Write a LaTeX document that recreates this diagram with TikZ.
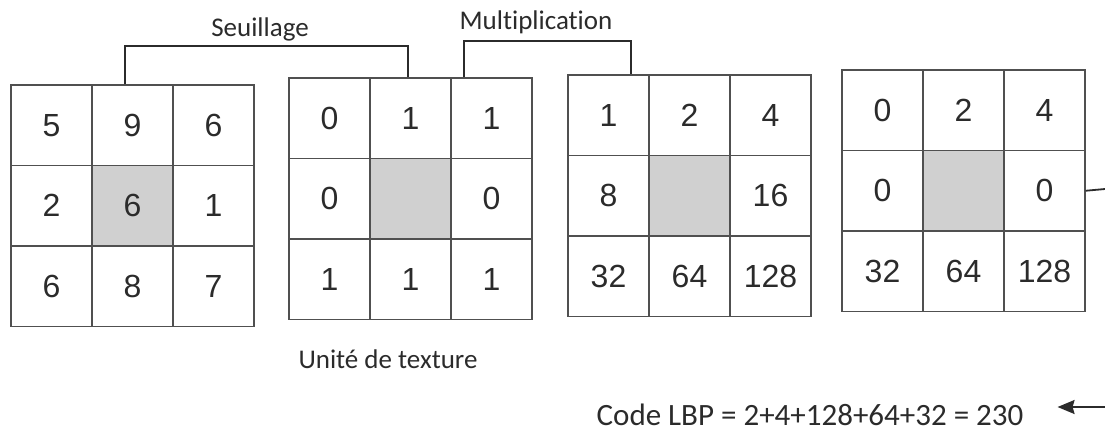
\documentclass[tikz,border=0pt]{standalone}
\usepackage{fontspec}
\setmainfont{Carlito}[Ligatures=NoCommon]
\newfontfamily\numfont{Liberation Sans}
\usetikzlibrary{arrows.meta}

\definecolor{gridgray}{HTML}{505050}
\definecolor{inkgray}{HTML}{2B2B2B}
\definecolor{centergray}{HTML}{D0D0D0}

\begin{document}
\begin{tikzpicture}[x = 1pt,
                    y = -1pt,
                    color = inkgray]
% styles of cells and texts
\tikzset{cell/.style={draw=gridgray,line width=1.4pt,minimum width=81pt,minimum height=80.5pt,
                      inner sep=0pt,text=inkgray,font=\numfont\fontsize{32}{32}\selectfont},
         midcell/.style={cell,fill=centergray},
         labeltext/.style={inner sep=0pt,text=inkgray,font=\fontsize{27}{27}\selectfont},
         bracket/.style={draw=inkgray,line width=1.8pt}}
\useasboundingbox (0,0) rectangle (1105,437);

%image window
\node[cell] (g1c11) at (51.5,125.25) {5};
\node[cell] (g1c12) at (132.5,125.25) {9};
\node[cell] (g1c13) at (213.5,125.25) {6};
\node[cell] (g1c21) at (51.5,205.75) {2};
\node[midcell] (g1c22) at (132.5,205.75) {6};
\node[cell] (g1c23) at (213.5,205.75) {1};
\node[cell] (g1c31) at (51.5,286.25) {6};
\node[cell] (g1c32) at (132.5,286.25) {8};
\node[cell] (g1c33) at (213.5,286.25) {7};

%thresholded window
\node[cell] (g2c11) at (329.5,118.25) {0};
\node[cell] (g2c12) at (410.5,118.25) {1};
\node[cell] (g2c13) at (491.5,118.25) {1};
\node[cell] (g2c21) at (329.5,198.75) {0};
\node[midcell] (g2c22) at (410.5,198.75) {};
\node[cell] (g2c23) at (491.5,198.75) {0};
\node[cell] (g2c31) at (329.5,279.25) {1};
\node[cell] (g2c32) at (410.5,279.25) {1};
\node[cell] (g2c33) at (491.5,279.25) {1};

%weights
\node[cell] (g3c11) at (608.5,115.25) {1};
\node[cell] (g3c12) at (689.5,115.25) {2};
\node[cell] (g3c13) at (770.5,115.25) {4};
\node[cell] (g3c21) at (608.5,195.75) {8};
\node[midcell] (g3c22) at (689.5,195.75) {};
\node[cell] (g3c23) at (770.5,195.75) {16};
\node[cell] (g3c31) at (608.5,276.25) {32};
\node[cell] (g3c32) at (689.5,276.25) {64};
\node[cell] (g3c33) at (770.5,276.25) {128};

%product
\node[cell] (g4c11) at (882.5,110.25) {0};
\node[cell] (g4c12) at (963.5,110.25) {2};
\node[cell] (g4c13) at (1044.5,110.25) {4};
\node[cell] (g4c21) at (882.5,190.75) {0};
\node[midcell] (g4c22) at (963.5,190.75) {};
\node[cell] (g4c23) at (1044.5,190.75) {0};
\node[cell] (g4c31) at (882.5,271.25) {32};
\node[cell] (g4c32) at (963.5,271.25) {64};
\node[cell] (g4c33) at (1044.5,271.25) {128};

%texts
\node[labeltext] (seuil) at (260,29) {Seuillage};
\node[labeltext] (mult) at (536,22) {Multiplication};
\node[labeltext] (unite) at (388,359) {Unité de texture};
\node[labeltext,font=\fontsize{31}{31}\selectfont] (code) at (810,415)
      {Code LBP = 2+4+128+64+32 = 230};

%brackets
\coordinate (sL) at (125,46);
\coordinate (sR) at (408,46);
\coordinate (mL) at (464,41);
\coordinate (mR) at (631,41);
\draw[bracket] (sL |- g1c12.north) -- (sL) -- (sR) -- (sR |- g2c12.north);
\draw[bracket] (mL |- g2c13.north) -- (mL) -- (mR) -- (mR |- g3c12.north);

%way back to the code
\coordinate (rOut) at (1105,189);
\coordinate (rIn) at (1105,407);
\draw[bracket] (g4c23.east) -- (rOut);
\draw[bracket, -{Stealth[length=17pt,width=14pt,inset=2pt]}, shorten >=34pt]
  (rIn) -- (code.east |- rIn);
\end{tikzpicture}
\end{document}
